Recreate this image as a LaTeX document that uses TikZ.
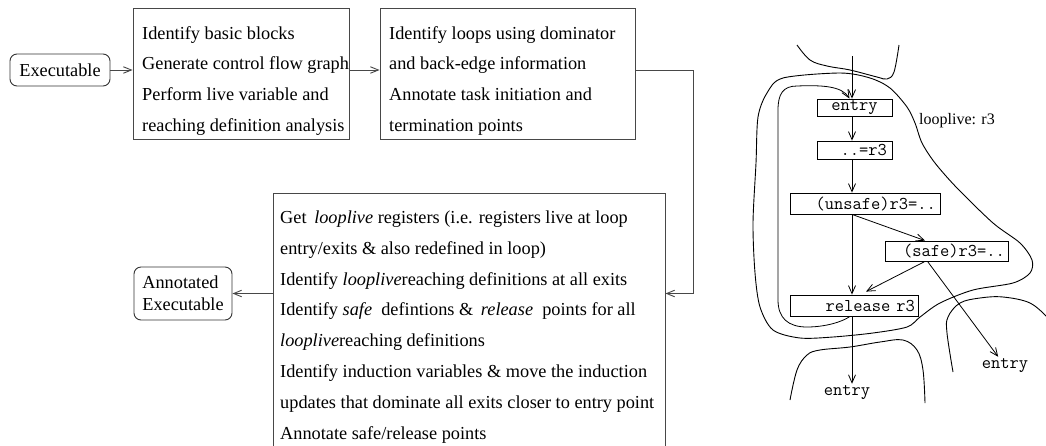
\documentclass[tikz,border=0pt]{standalone}
\usepackage{fontspec}
\setmainfont{Liberation Serif}
\usetikzlibrary{arrows.meta}
\tikzset{
  box/.style={draw=black!72, line width=0.9pt, inner sep=0pt},
  rbox/.style={draw=black!80, line width=0.9pt, rounded corners=7pt, inner sep=0pt, font=\fontsize{18.3pt}{22pt}\selectfont},
  txt/.style={inner sep=0pt, align=left, font=\fontsize{18.3pt}{30.8pt}\selectfont},
  flow/.style={draw=black!72, line width=0.9pt, -{Straight Barb[length=8pt,width=6.5pt]}},
  cb/.style={draw=black, line width=0.8pt, font=\fontsize{18pt}{20pt}\ttfamily, inner ysep=0pt},
  mono/.style={font=\fontsize{18pt}{20pt}\ttfamily, inner sep=2pt},
  arr/.style={draw=black, line width=0.8pt, -{Straight Barb[length=8pt,width=7pt]}},
  curve/.style={draw=black, line width=0.9pt}
}
\begin{document}
\begin{tikzpicture}[x=1pt,y=-1pt]
\useasboundingbox (0,0) rectangle (1046,445);
\clip (0,0) rectangle (1046,445);
\fill[white] (0,0) rectangle (1046,445);

% ---------------- flow chart ----------------
\node[rbox, minimum width=100pt, minimum height=32pt] (exe) at (60,70) {Executable};

\node[box, minimum width=216pt, minimum height=131pt] (b1) at (241,73.5) {};
\node[txt, anchor=north west] (t1) at (142,26) {Identify basic blocks\\Generate control flow graph\\Perform live variable and\\reaching definition analysis};

\node[box, minimum width=255pt, minimum height=131pt] (b2) at (507.5,73.5) {};
\node[txt, anchor=north west] (t2) at (389,26) {Identify loops using dominator\\and back-edge information\\Annotate task initiation and\\termination points};

\node[box, minimum width=392pt, minimum height=277pt] (b3) at (469,331.5) {};
\node[txt, anchor=north west] (t3) at (280,210.5) {Get \,\textit{looplive} registers (i.e. registers live at loop\\entry/exits \& also redefined in loop)\\Identify \textit{looplive}reaching definitions at all exits\\Identify \textit{safe} \ defintions \& \,\textit{release} \ points for all\\\textit{looplive}reaching definitions\\Identify induction variables \& move the induction\\updates that dominate all exits closer to entry point\\Annotate safe/release points};

\node[rbox, minimum width=98pt, minimum height=53pt, align=left] (ann) at (183,293.5) {Annotated\\Executable};

\draw[flow] (exe) -- (exe -| b1.west);
\draw[flow] (b1.east |- exe) -- (b2.west |- exe);
\draw[flow] (b2.east |- exe) -- ++(58,0) |- (b3.east |- ann);
\draw[flow] (b3.west |- ann) -- (ann);

% ---------------- loop picture ----------------
\node[cb, minimum width=75pt, minimum height=17pt] (en1) at (854.5,107.5) {entry};
\node[cb, text width=65pt, align=right, inner xsep=5pt, minimum height=18pt] (use) at (854.5,150) {..=r3};
\node[cb, text width=142pt, align=right, inner xsep=4pt, minimum height=21pt] (uns) at (865,203.5) {(unsafe)r3=..};
\node[cb, text width=117pt, align=right, inner xsep=3pt, minimum height=20pt] (safe) at (946.5,251) {(safe)r3=..};
\node[cb, text width=122pt, align=right, inner xsep=3pt, minimum height=21pt] (rel) at (854,305.5) {release r3};
\node[mono] (ex1) at (847,393) {entry};
\node[mono] (ex2) at (1005,366) {entry};
\node[inner sep=0pt, font=\fontsize{16pt}{18pt}\selectfont] (ll) at (957,121) {looplive: r3};

\coordinate (mx) at (852,0);
\coordinate (in) at (852,56);

\draw[arr] (in) -- (en1.north -| mx);
\draw[arr] (en1.south -| mx) -- (use.north -| mx);
\draw[arr] (use.south -| mx) -- (uns.north -| mx);
\draw[arr] (uns.south -| mx) -- (rel.north -| mx);
\draw[arr] (uns.south -| mx) -- ([xshift=-21.5pt]safe.north);
\draw[arr] ([xshift=-21.5pt]safe.south) -- ([xshift=12pt,yshift=3pt]rel.north);
\draw[arr] ([xshift=-19pt]safe.south) -- (ex2);
\draw[arr] (rel.south -| mx) -- (ex1.north -| mx);
% back edge
\draw[arr] ([xshift=-4pt]rel.south)
  .. controls (842,322) and (825,327) .. (807,327)
  .. controls (788,327) and (778,318) .. (778,300)
  -- (778,110)
  .. controls (778,94) and (783,86) .. (797,86)
  .. controls (822,85) and (842,86) .. ([xshift=-5pt]en1.north);

% loop region
\draw[curve] plot[smooth cycle, tension=0.5] coordinates {
 (783,78) (840,73) (870,78) (890,88) (907,107) (915,123) (922,143) (935,163)
 (957,188) (993,223) (1020,243) (1032,260) (1030,273) (1013,283) (973,290)
 (940,303) (920,317) (907,327) (873,333) (833,337) (800,338) (773,330)
 (760,307) (755,273) (753,223) (756,163) (758,117) (767,93)};
% top region
\draw[curve] plot[smooth, tension=0.6] coordinates {
 (797,45) (810,60) (827,66) (850,70) (877,77) (887,79) (894,72) (899,45)};
% bottom-left region
\draw[curve] plot[smooth, tension=0.6] coordinates {
 (790,400) (797,370) (807,355) (820,350) (850,347) (880,342) (903,340) (917,350) (923,370) (925,403)};
% bottom-right region
\draw[curve] plot[smooth, tension=0.6] coordinates {
 (953,372) (947,333) (948,317) (960,303) (980,298) (1003,297) (1030,303) (1048,318)};
\end{tikzpicture}
\end{document}
